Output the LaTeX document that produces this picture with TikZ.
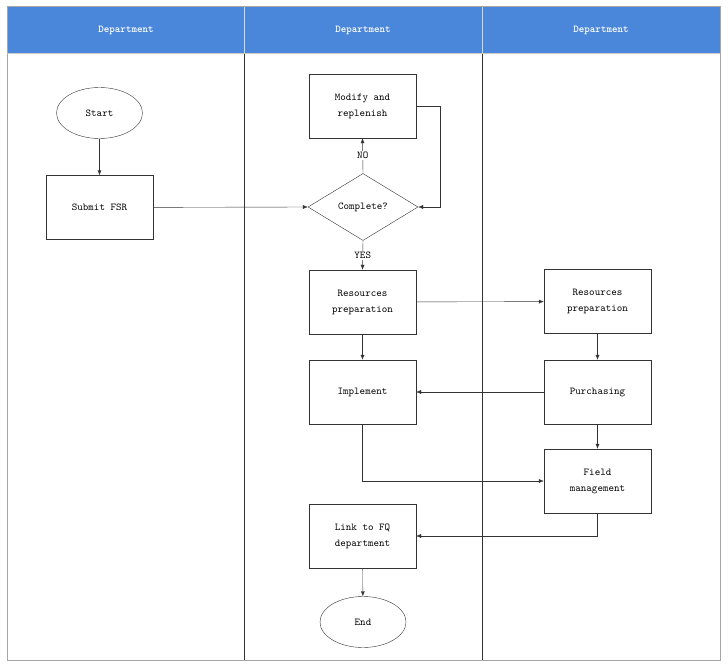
\documentclass[tikz,border=0pt]{standalone}
\usetikzlibrary{shapes.geometric,arrows.meta}
\definecolor{headblue}{HTML}{4A86DA}
\definecolor{linegray}{HTML}{333333}
\newcommand{\lanefont}{\ttfamily\fontsize{10.5}{16}\selectfont}
\tikzset{
  procbox/.style={draw=linegray, minimum width=107pt, minimum height=64pt, align=center, font=\lanefont},
  termnode/.style={ellipse, draw=linegray, minimum width=86pt, minimum height=51pt, font=\lanefont},
  decision/.style={diamond, draw=linegray, minimum width=110pt, minimum height=67pt, inner sep=0pt, font=\lanefont},
  flow/.style={draw=linegray, -{Latex[length=5pt,width=4pt]}},
  tag/.style={fill=white, inner sep=1pt, font=\lanefont},
  headtext/.style={text=white, font=\lanefont\bfseries}
}
\begin{document}
\begin{tikzpicture}[x=1pt, y=-1pt]
\useasboundingbox (0,0) rectangle (728,666);

% Lanes and header band
\fill[headblue] (7,6) rectangle (720,53);
\draw[gray!30] (244,6) -- (244,53);
\draw[gray!30] (482,6) -- (482,53);
\draw[linegray] (244,53) -- (244,660);
\draw[linegray] (482,53) -- (482,660);
\draw[gray!70] (7,6) rectangle (720,660);
\draw[gray!40] (7,53) -- (720,53);
\node[headtext] (laneA) at (126,30) {Department};
\node[headtext] (laneB) at (363,30) {Department};
\node[headtext] (laneC) at (601,30) {Department};

% First lane
\node[termnode] (start) at (99.5,113) {Start};
\node[procbox] (submit) at (99.5,207.5) {Submit FSR};

% Second lane
\node[procbox] (modify) at (362.5,106) {Modify and\\replenish};
\node[decision] (check) at (363,207) {Complete?};
\node[procbox] (prepA) at (362.5,302) {Resources\\preparation};
\node[procbox] (implement) at (362.5,392) {Implement};
\node[procbox] (link) at (362.5,536) {Link to FQ\\department};
\node[termnode] (finish) at (363,622) {End};

% Third lane
\node[procbox] (prepB) at (597.5,301.5) {Resources\\preparation};
\node[procbox] (purchase) at (597.5,392) {Purchasing};
\node[procbox] (field) at (597.5,481) {Field\\management};

% Connectors
\draw[flow] (start) -- (submit);
\draw[flow] (submit) -- (check.west);
\draw[flow] (check.north) -- node[tag] {NO} (modify.south);
\draw[flow] (modify.east) -- ++(24,0) |- (check.east);
\draw[flow] (check.south) -- node[tag] {YES} (prepA.north);
\draw[flow] (prepA) -- (prepB);
\draw[flow] (prepA) -- (implement);
\draw[flow] (prepB) -- (purchase);
\draw[flow] (purchase) -- (implement);
\draw[flow] (implement.south) |- (field.west);
\draw[flow] (purchase) -- (field);
\draw[flow] (field.south) |- (link.east);
\draw[flow] (link) -- (finish);
\end{tikzpicture}
\end{document}
